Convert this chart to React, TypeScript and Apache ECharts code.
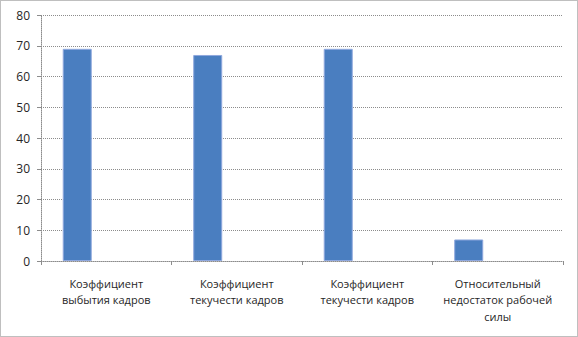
import React, { useEffect, useRef } from "react";
import * as echarts from "echarts";

const categories = [
  "Коэффициент\nвыбытия кадров",
  "Коэффициент\nтекучести кадров",
  "Коэффициент\nтекучести кадров",
  "Относительный\nнедостаток рабочей\nсилы",
];
const seriesValues = [69, 67, 69, 7];
const yTicks = { min: 0, max: 80, interval: 10 };

export default function App() {
  const ref = useRef<HTMLDivElement>(null);
  useEffect(() => {
    if (!ref.current) return;
    const chart = echarts.init(ref.current, null, { renderer: "svg" });
    const font = "Open Sans";
    chart.setOption({
      animation: false,
      backgroundColor: "#ffffff",
      graphic: [
        {
          type: "rect",
          shape: { x: 0.5, y: 0.5, width: 577, height: 336 },
          style: { fill: "none", stroke: "#7f7f7f", lineWidth: 1, lineDash: [1, 1] },
          silent: true,
        },
      ],
      grid: { left: 41, right: 15, top: 15, bottom: 76, containLabel: false },
      xAxis: {
        type: "category",
        data: categories,
        boundaryGap: true,
        axisLine: { lineStyle: { color: "#8c8c8c", type: [1, 1], width: 1 } },
        axisTick: { show: true, alignWithLabel: false, length: 4, lineStyle: { color: "#8c8c8c" } },
        axisLabel: {
          color: "#262626",
          fontFamily: font,
          fontSize: 11,
          lineHeight: 16.5,
          margin: 14,
          interval: 0,
        },
        splitLine: { show: false },
      },
      yAxis: {
        type: "value",
        min: yTicks.min,
        max: yTicks.max,
        interval: yTicks.interval,
        axisLine: { show: true, lineStyle: { color: "#8c8c8c", type: [1, 1], width: 1 } },
        axisTick: { show: true, length: 4, lineStyle: { color: "#8c8c8c" } },
        axisLabel: { color: "#262626", fontFamily: font, fontSize: 12, margin: 11 },
        splitLine: { show: true, lineStyle: { color: "#8c8c8c", type: [1, 1], width: 1 } },
      },
      series: [
        {
          type: "bar",
          data: seriesValues,
          barGap: "0%",
          barCategoryGap: "33.3%",
          itemStyle: { color: "#4a7ec0", borderColor: "#8fa8de", borderWidth: 1 },
        },
        { type: "bar", data: seriesValues.map(() => null), barGap: "0%", barCategoryGap: "33.3%" },
        { type: "bar", data: seriesValues.map(() => null), barGap: "0%", barCategoryGap: "33.3%" },
      ],
    });
    return () => chart.dispose();
  }, []);
  return <div ref={ref} style={{ width: 578, height: 337, position: "absolute", left: 0, top: 0 }} />;
}
